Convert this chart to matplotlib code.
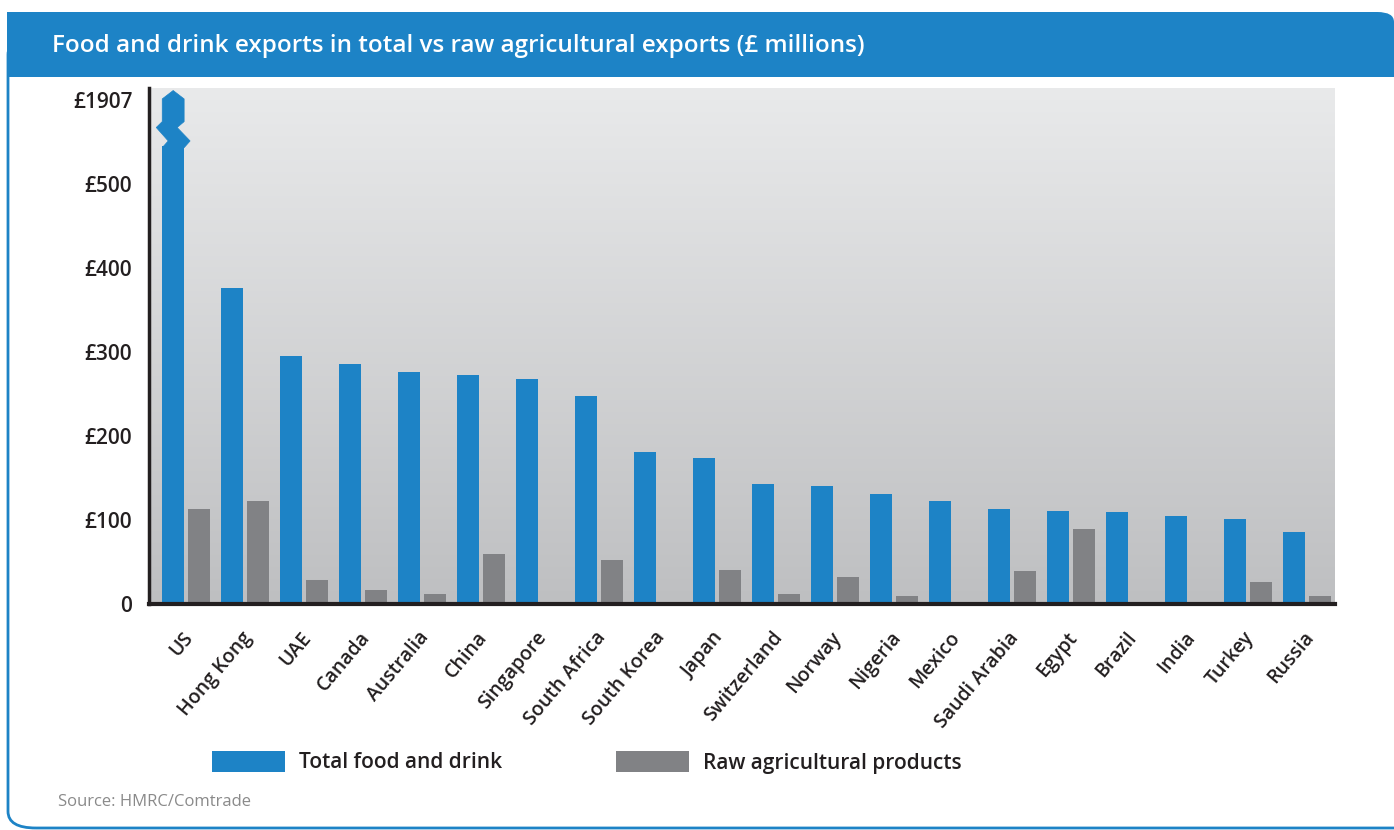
import numpy as np
import matplotlib
matplotlib.use("Agg")
import matplotlib.pyplot as plt
from matplotlib.patches import Polygon, Rectangle, FancyBboxPatch
from matplotlib.transforms import offset_copy, blended_transform_factory

countries = ["US", "Hong Kong", "UAE", "Canada", "Australia", "China", "Singapore",
             "South Africa", "South Korea", "Japan", "Switzerland", "Norway", "Nigeria",
             "Mexico", "Saudi Arabia", "Egypt", "Brazil", "India", "Turkey", "Russia"]
total_food_drink = [1907, 376, 295, 285, 276, 273, 268, 248, 181, 174, 143, 140, 131,
                    123, 113, 111, 110, 105, 101, 86]
raw_agri = [113, 123, 29, 17, 12, 60, 0, 52, 0, 40, 12, 32, 10, 0, 39, 89, 0, 0, 26, 10]

ytick_vals = [0, 100, 200, 300, 400, 500, 600]
ytick_labels = ["0", "£100", "£200", "£300", "£400", "£500", "£1907"]

blue = "#1d83c6"
grey = "#818285"
dark = "#231f20"

plt.rcParams["font.family"] = ["Open Sans", "DejaVu Sans"]

fig = plt.figure(figsize=(13.94, 8.30), dpi=100)
W, H = 1394, 830

# outer frame
fig.patches.append(FancyBboxPatch((8 / W, 2 / H), 1.2, 790 / H,
                                  boxstyle="round,pad=0,rounding_size=0.02",
                                  transform=fig.transFigure, fill=False,
                                  edgecolor=blue, linewidth=2))
# title banner: only the top right corner is rounded
fig.patches.append(FancyBboxPatch((7 / W, 1 - 77 / H), (W - 7) / W, 65 / H,
                                  boxstyle="round,pad=0,rounding_size=0.012",
                                  transform=fig.transFigure, facecolor=blue,
                                  edgecolor="none"))
fig.patches.append(Rectangle((7 / W, 1 - 77 / H), 200 / W, 65 / H,
                             transform=fig.transFigure, facecolor=blue, edgecolor="none"))
fig.patches.append(Rectangle((7 / W, 1 - 77 / H), (W - 7) / W, 35 / H,
                             transform=fig.transFigure, facecolor=blue, edgecolor="none"))
fig.text(52 / W, 1 - 46 / H, "Food and drink exports in total vs raw agricultural exports (£ millions)",
         color="white", fontsize=17.5, fontweight="semibold", va="center", ha="left")

ax = fig.add_axes([149 / W, 1 - 604 / H, (1335 - 149) / W, (604 - 88) / H])

# gradient background
grad = np.linspace(0, 1, 256).reshape(-1, 1)
ax.imshow(grad, extent=[0, 1, 0, 1], transform=ax.transAxes, aspect="auto",
          cmap=matplotlib.colors.LinearSegmentedColormap.from_list("bg", ["#e9eaeb", "#bebfc1"]),
          zorder=0)

x = np.arange(len(countries))
off = 0.22
bw = 0.375
cap = 545
shown = [min(v, cap) for v in total_food_drink]
ax.bar(x - off, shown, bw, color=blue, zorder=2)
ax.bar(x + off, raw_agri, bw, color=grey, zorder=2)

# broken bar for values above the scale
px = 59.3
for i, v in enumerate(total_food_drink):
    if v > cap:
        c = x[i] - off
        pts = [(-11, 543), (-5, 551), (-17, 567), (-11, 574), (-11, 601), (0, 611),
               (11, 601), (11, 574), (4, 567), (17, 551), (11, 543)]
        ax.add_patch(Polygon([(c + dx / px, yv) for dx, yv in pts], closed=True,
                             facecolor=blue, edgecolor=blue, linewidth=0.5, zorder=2))

ax.set_xlim(-0.63, 19.48)
ax.set_ylim(0, 614)
ax.set_yticks(ytick_vals)
ax.set_yticklabels(ytick_labels)
ax.set_xticks(x)
ax.set_xticklabels([])
ax.tick_params(axis="both", length=0, labelcolor=dark)
ax.tick_params(axis="y", pad=12, labelsize=15)
for lab in ax.get_yticklabels():
    lab.set_fontweight("semibold")

# rotated category labels, top right corner just below each group
lab_tr = offset_copy(blended_transform_factory(ax.transData, ax.transAxes),
                     fig=fig, x=11, y=-24, units="dots")
for xi, name in zip(x, countries):
    ax.text(xi, 0, name, transform=lab_tr, rotation=50, ha="right", va="top",
            fontsize=14, fontweight="semibold", color=dark, clip_on=False)

for s in ["top", "right"]:
    ax.spines[s].set_visible(False)
ax.spines["left"].set_color(dark)
ax.spines["left"].set_linewidth(2.5)
ax.spines["bottom"].set_color(dark)
ax.spines["bottom"].set_linewidth(3)

# legend
fig.patches.append(Rectangle((212 / W, 1 - 772 / H), 73 / W, 21 / H,
                             transform=fig.transFigure, facecolor=blue, edgecolor="none"))
fig.text(299 / W, 1 - 763 / H, "Total food and drink", fontsize=15, fontweight="semibold",
         color=dark, va="center", ha="left")
fig.patches.append(Rectangle((616 / W, 1 - 772 / H), 73 / W, 21 / H,
                             transform=fig.transFigure, facecolor=grey, edgecolor="none"))
fig.text(703 / W, 1 - 763 / H, "Raw agricultural products", fontsize=15, fontweight="semibold",
         color=dark, va="center", ha="left")

fig.text(58 / W, 1 - 802 / H, "Source: HMRC/Comtrade", fontsize=12, color="#8a8a8a",
         va="center", ha="left")

fig.savefig("out.png", dpi=100)
